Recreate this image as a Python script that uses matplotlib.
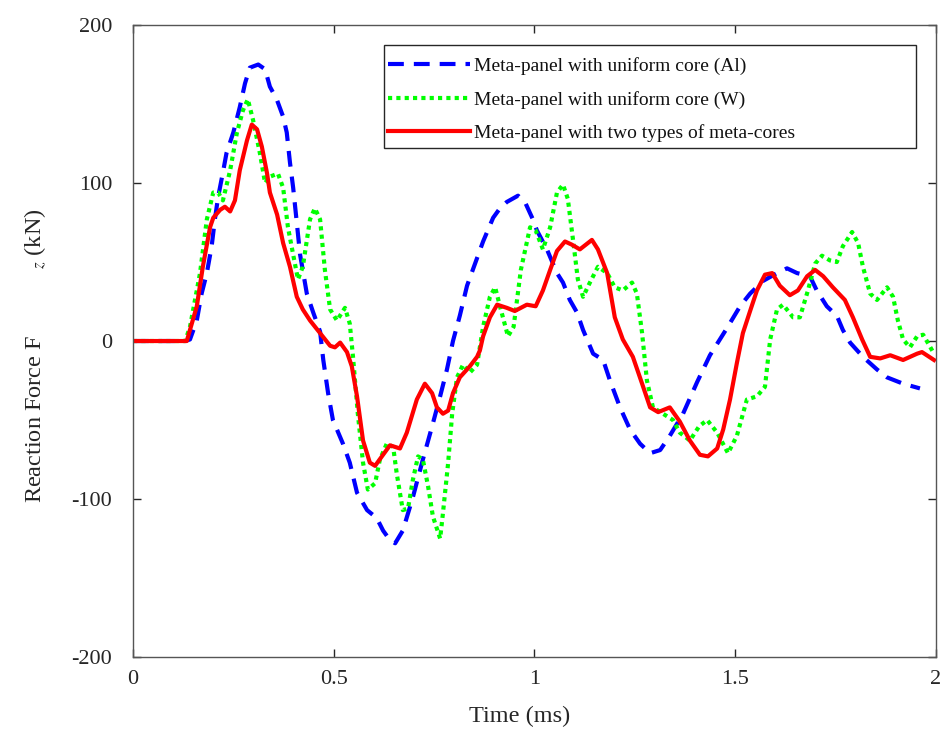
import matplotlib
matplotlib.use("Agg")
import matplotlib.pyplot as plt
from matplotlib.patches import Rectangle

plt.rcParams['font.family'] = ['Liberation Serif', 'DejaVu Serif']
plt.rcParams['mathtext.fontset'] = 'stix'
plt.rcParams['axes.unicode_minus'] = False

# time (ms) and reaction force (kN) for each panel
t_al = [0, 0.13, 0.142, 0.159, 0.171, 0.184, 0.196, 0.204, 0.212, 0.225, 0.233, 0.25, 0.266,
        0.279, 0.291, 0.312, 0.329, 0.341, 0.358, 0.374, 0.383, 0.391, 0.399, 0.408, 0.416,
        0.433, 0.449, 0.466, 0.474, 0.486, 0.498, 0.523, 0.540, 0.558, 0.583, 0.607, 0.623,
        0.640, 0.653, 0.672, 0.697, 0.722, 0.745, 0.765, 0.782, 0.797, 0.814, 0.832, 0.852,
        0.872, 0.897, 0.914, 0.931, 0.959, 0.978, 0.996, 1.006, 1.031, 1.056, 1.071, 1.088,
        1.106, 1.121, 1.146, 1.171, 1.188, 1.213, 1.238, 1.263, 1.288, 1.313, 1.337, 1.37,
        1.405, 1.437, 1.479, 1.512, 1.537, 1.569, 1.604, 1.629, 1.654, 1.686, 1.703, 1.728,
        1.753, 1.768, 1.786, 1.818, 1.853, 1.878, 1.918, 1.96]
f_al = [0, 0, 1, 13, 30, 43, 60, 77, 91, 108, 119, 132, 148,
        163, 173, 175, 172, 161, 153, 142, 132, 113, 97, 75, 55,
        30, 18, 6, -12, -33, -50, -65, -77, -96, -107, -112, -120,
        -126, -128, -120, -99, -75, -54, -35, -18, 0, 16, 35, 49,
        63, 78, 84, 88, 92, 87, 77, 70, 58, 43, 37, 26,
        18, 7, -8, -12, -25, -42, -56, -65, -71, -69, -60, -46,
        -26, -9, 8, 22, 30, 38, 43, 46, 43, 41, 32, 22,
        16, 7, -1, -10, -18, -23, -27, -30]

t_w = [0, 0.13, 0.142, 0.167, 0.184, 0.2, 0.212, 0.224, 0.242, 0.259, 0.274, 0.286, 0.299,
       0.316, 0.329, 0.341, 0.361, 0.374, 0.386, 0.398, 0.411, 0.423, 0.441, 0.453, 0.466,
       0.478, 0.491, 0.508, 0.528, 0.54, 0.548, 0.56, 0.573, 0.585, 0.603, 0.615, 0.632,
       0.648, 0.657, 0.672, 0.685, 0.697, 0.71, 0.722, 0.735, 0.747, 0.765, 0.772, 0.785,
       0.795, 0.807, 0.822, 0.839, 0.857, 0.872, 0.889, 0.902, 0.914, 0.934, 0.948, 0.966,
       0.989, 1.003, 1.021, 1.039, 1.056, 1.071, 1.083, 1.096, 1.108, 1.121, 1.138, 1.158,
       1.181, 1.2, 1.22, 1.243, 1.255, 1.268, 1.28, 1.295, 1.32, 1.345, 1.362, 1.387,
       1.41, 1.43, 1.455, 1.482, 1.504, 1.529, 1.554, 1.574, 1.587, 1.604, 1.619, 1.644,
       1.661, 1.681, 1.699, 1.716, 1.736, 1.753, 1.768, 1.791, 1.806, 1.818, 1.836, 1.853,
       1.878, 1.893, 1.905, 1.918, 1.935, 1.953, 1.968, 1.995]
f_w = [0, 0, 9, 43, 77, 94, 94, 89, 108, 132, 146, 153, 140,
       119, 100, 104, 106, 97, 72, 56, 39, 47, 77, 84, 77,
       45, 20, 13, 21, 11, -10, -46, -77, -94, -90, -75, -65,
       -67, -84, -107, -106, -88, -73, -75, -92, -111, -125, -109, -77,
       -46, -23, -15, -20, -15, 9, 28, 34, 22, 3, 9, 45,
       72, 70, 58, 72, 94, 99, 90, 64, 39, 28, 37, 47,
       43, 34, 32, 37, 30, 5, -25, -42, -46, -50, -58, -63,
       -54, -50, -58, -71, -60, -37, -35, -29, 1, 20, 23, 15,
       15, 32, 49, 54, 51, 50, 60, 69, 62, 47, 30, 26,
       34, 28, 13, 1, -4, 3, 4, -8]

t_mix = [0, 0.134, 0.159, 0.174, 0.192, 0.2, 0.217, 0.229, 0.242, 0.254, 0.266, 0.284, 0.296,
         0.309, 0.321, 0.334, 0.341, 0.359, 0.374, 0.391, 0.408, 0.423, 0.441, 0.466, 0.491,
         0.503, 0.516, 0.533, 0.545, 0.558, 0.573, 0.59, 0.603, 0.62, 0.64, 0.665, 0.682,
         0.707, 0.727, 0.745, 0.757, 0.772, 0.785, 0.797, 0.814, 0.839, 0.857, 0.864, 0.872,
         0.889, 0.907, 0.931, 0.951, 0.981, 1.003, 1.021, 1.039, 1.056, 1.076, 1.093, 1.113,
         1.143, 1.158, 1.181, 1.2, 1.22, 1.245, 1.268, 1.288, 1.308, 1.337, 1.362, 1.387,
         1.412, 1.432, 1.455, 1.47, 1.487, 1.504, 1.519, 1.537, 1.554, 1.574, 1.592, 1.611,
         1.636, 1.656, 1.679, 1.699, 1.719, 1.743, 1.773, 1.793, 1.816, 1.836, 1.861, 1.886,
         1.918, 1.953, 1.965, 1.995]
f_mix = [0, 0, 22, 47, 72, 78, 83, 85, 82, 89, 108, 127, 137,
         134, 123, 106, 94, 80, 62, 47, 28, 20, 13, 5, -3,
         -4, -1, -7, -16, -35, -63, -77, -79, -73, -66, -68, -58,
         -37, -27, -33, -42, -46, -44, -33, -23, -16, -10, -6, 3,
         15, 23, 21, 19, 23, 22, 32, 45, 57, 63, 61, 58,
         64, 58, 43, 15, 1, -10, -27, -42, -45, -42, -51, -63,
         -72, -73, -68, -56, -37, -14, 5, 19, 32, 42, 43, 35,
         29, 32, 41, 45, 41, 34, 26, 15, 1, -10, -11, -9,
         -12, -8, -7, -12]

labels = ['Meta-panel with uniform core (Al)',
          'Meta-panel with uniform core (W)',
          'Meta-panel with two types of meta-cores']

fig = plt.figure(figsize=(9.41, 7.36), dpi=100)
ax = fig.add_axes([0.1413, 0.1073, 0.8534, 0.8587])

axcol = '#262626'
ax.plot(t_al, f_al, color='#0000ff', lw=3, linestyle=(0, (3.8, 2.4)), label=labels[0])
ax.plot(t_w, f_w, color='#00ff00', lw=3, linestyle=(0, (1, 1)), dash_capstyle='butt',
        label=labels[1])
ax.plot(t_mix, f_mix, color='#ff0000', lw=3, label=labels[2])

ax.set_xlim(0, 2)
ax.set_ylim(-200, 200)
ax.set_xticks([0, 0.5, 1, 1.5, 2])
ax.set_xticklabels(['0', '0.5', '1', '1.5', '2'])
ax.set_yticks([-200, -100, 0, 100, 200])
ax.tick_params(direction='in', length=6, width=1, colors=axcol, labelsize=16,
               top=True, right=True)
ax.tick_params(axis='y', pad=15)
ax.tick_params(axis='x', pad=9)
for s in ax.spines.values():
    s.set_color('#555555')
    s.set_linewidth(1)

ax.set_xlabel('Time (ms)', fontsize=17.5, color=axcol)
ax.xaxis.set_label_coords(0.481, -0.077)
ax.set_ylabel('Reaction Force F           ${}_z$ (kN)', fontsize=17.5, color=axcol)
ax.yaxis.set_label_coords(-0.106, 0.476)

# legend box is wider than its entries, so the frame is drawn separately
leg = ax.legend(loc='upper left', bbox_to_anchor=(0.3126, 0.9557), fontsize=14,
                frameon=False, handlelength=4.2, borderpad=0.2, labelspacing=0.81,
                handletextpad=0.25, borderaxespad=0)
for txt in leg.get_texts():
    txt.set_color('#111111')
ax.add_patch(Rectangle((0.3126, 0.8054), 0.6625, 0.163, transform=ax.transAxes,
                       facecolor='white', edgecolor='#262626', lw=1, zorder=4))
leg.set_zorder(5)

fig.savefig('out.png', dpi=100)
